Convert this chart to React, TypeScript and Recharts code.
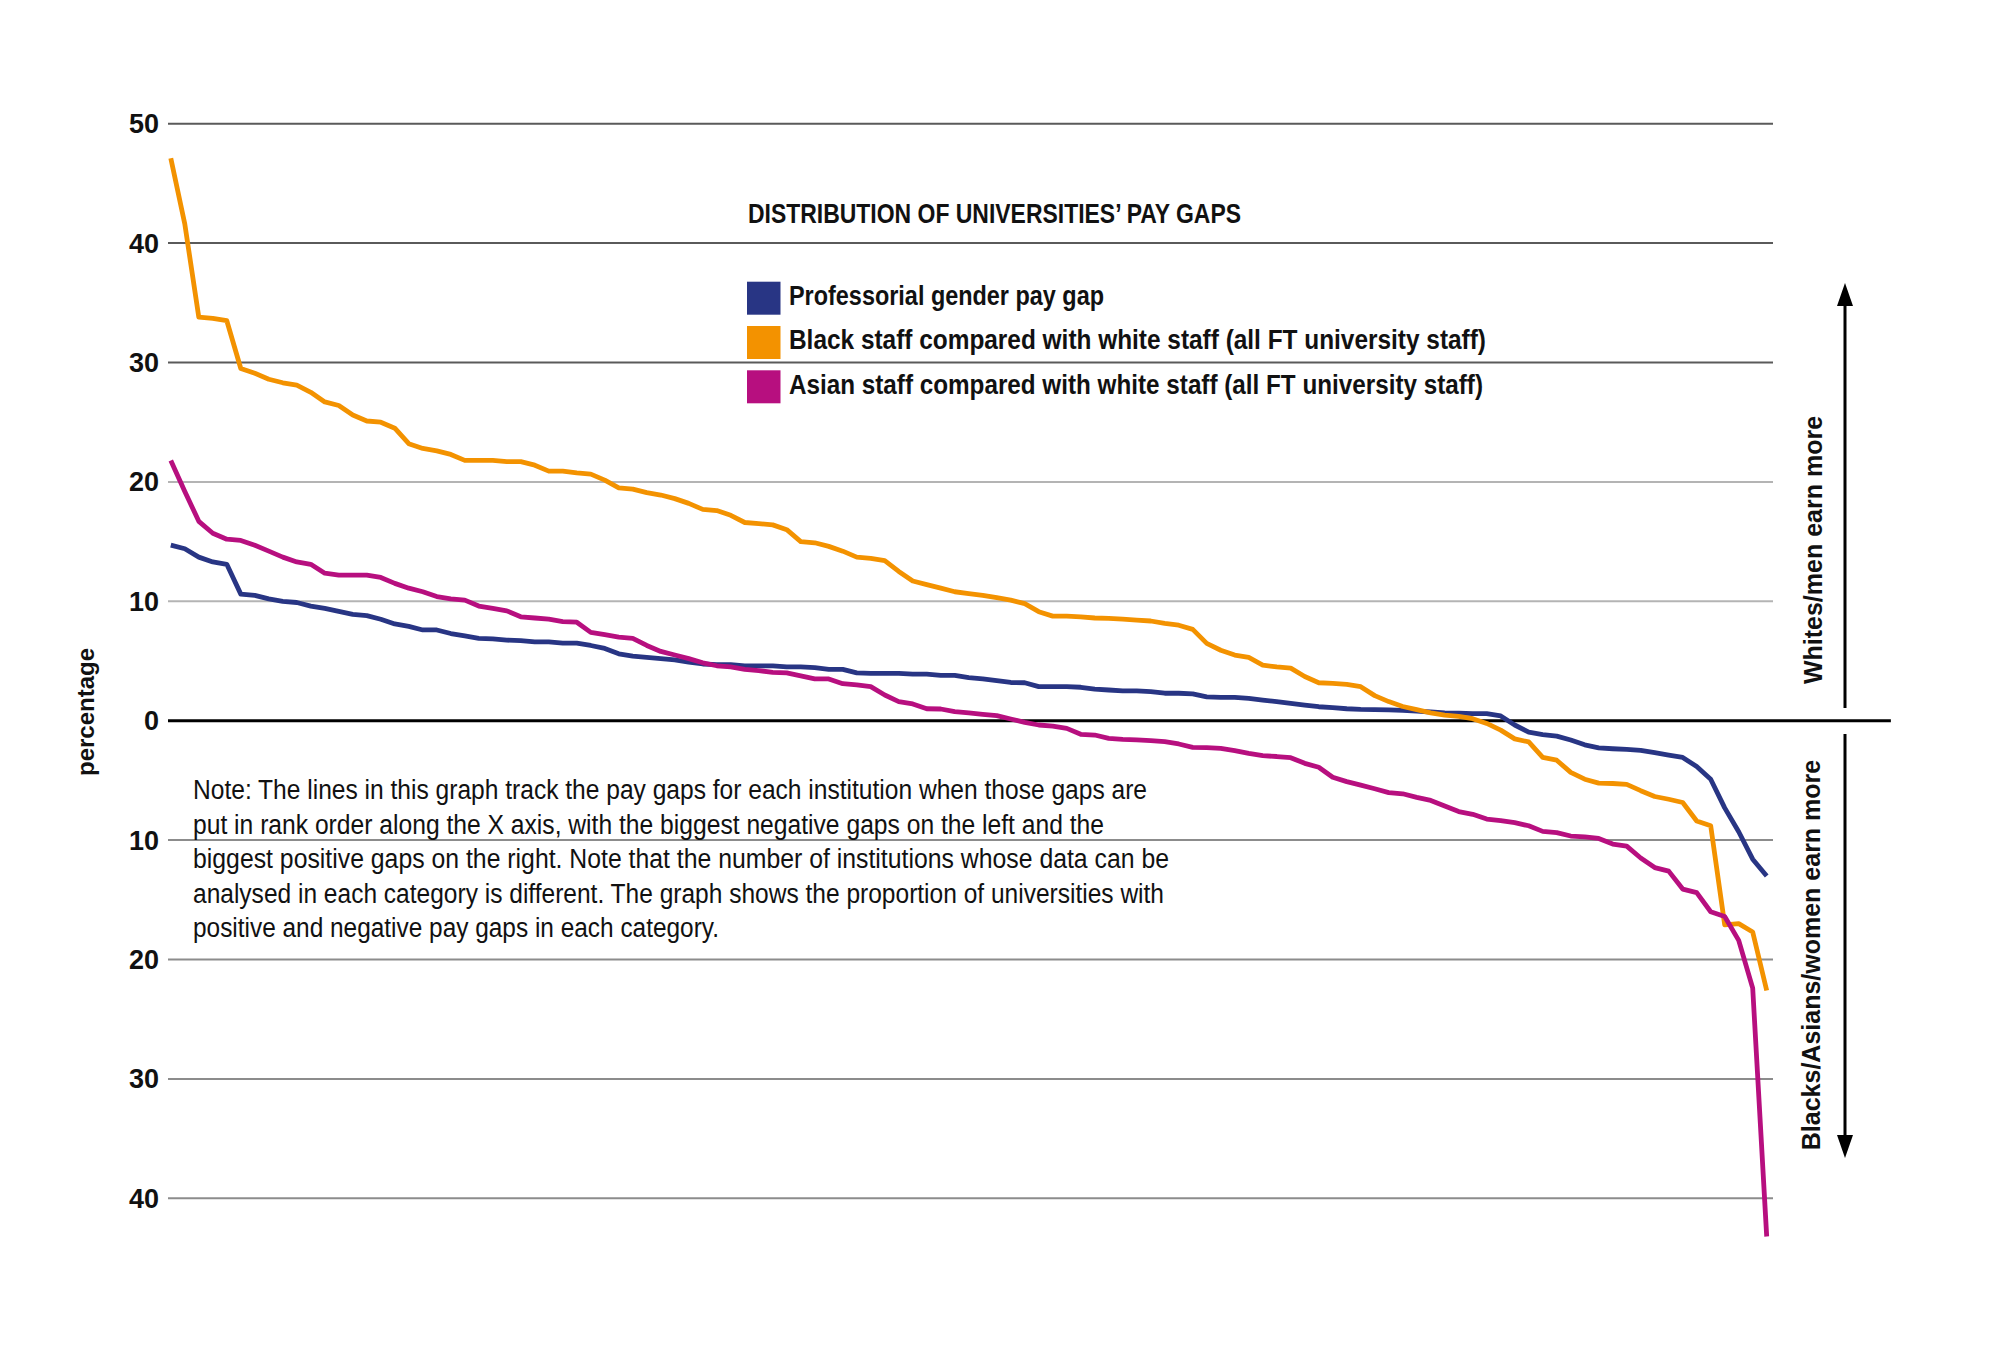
import React from 'react';
import { LineChart, Line, XAxis, YAxis, ReferenceLine, Legend } from 'recharts';

// Ranked pay gaps (percentage), left = biggest gap in favour of whites/men
const genderGap = [
  14.7, 14.4, 13.7, 13.3, 13.1, 10.6, 10.5, 10.2, 10.0, 9.9,
  9.6, 9.4, 9.15, 8.9, 8.8, 8.5, 8.1, 7.9, 7.6, 7.6,
  7.3, 7.1, 6.9, 6.85, 6.75, 6.7, 6.6, 6.6, 6.5, 6.5,
  6.3, 6.05, 5.6, 5.4, 5.3, 5.2, 5.1, 4.9, 4.75, 4.7,
  4.7, 4.6, 4.6, 4.6, 4.5, 4.5, 4.45, 4.3, 4.3, 4.0,
  3.96, 3.96, 3.96, 3.9, 3.9, 3.8, 3.8, 3.6, 3.5, 3.35,
  3.2, 3.18, 2.85, 2.85, 2.85, 2.8, 2.65, 2.57, 2.5, 2.5,
  2.43, 2.3, 2.3, 2.24, 2.0, 1.96, 1.96, 1.87, 1.73, 1.6,
  1.45, 1.3, 1.17, 1.1, 1.0, 0.95, 0.93, 0.9, 0.86, 0.8,
  0.73, 0.66, 0.63, 0.6, 0.6, 0.4, -0.36, -0.96, -1.16, -1.29,
  -1.62, -2.02, -2.28, -2.35, -2.41, -2.48, -2.68, -2.88, -3.08, -3.84,
  -4.9, -7.3, -9.3, -11.6, -13.0,
];

const blackGap = [
  47.1, 41.6, 33.8, 33.7, 33.5, 29.5, 29.1, 28.6, 28.3, 28.1,
  27.5, 26.7, 26.4, 25.6, 25.1, 25.0, 24.5, 23.2, 22.8, 22.6,
  22.3, 21.8, 21.8, 21.8, 21.7, 21.7, 21.4, 20.9, 20.9, 20.75,
  20.65, 20.15, 19.5, 19.4, 19.1, 18.9, 18.6, 18.2, 17.7, 17.6,
  17.2, 16.6, 16.5, 16.4, 16.0, 15.0, 14.9, 14.6, 14.2, 13.7,
  13.6, 13.4, 12.5, 11.7, 11.4, 11.1, 10.8, 10.65, 10.5, 10.3,
  10.1, 9.8, 9.13, 8.76, 8.76, 8.7, 8.6, 8.57, 8.5, 8.43,
  8.35, 8.15, 8.0, 7.65, 6.48, 5.9, 5.5, 5.3, 4.66, 4.5,
  4.4, 3.7, 3.18, 3.13, 3.05, 2.85, 2.1, 1.6, 1.19, 0.93,
  0.66, 0.47, 0.37, 0.17, -0.23, -0.79, -1.52, -1.78, -3.08, -3.31,
  -4.33, -4.9, -5.23, -5.26, -5.33, -5.86, -6.35, -6.58, -6.85, -8.4,
  -8.8, -17.1, -17.0, -17.7, -22.6,
];

const asianGap = [
  21.8, 19.2, 16.7, 15.7, 15.2, 15.1, 14.7, 14.2, 13.7, 13.3,
  13.1, 12.35, 12.2, 12.2, 12.2, 12.0, 11.5, 11.1, 10.8, 10.4,
  10.2, 10.1, 9.6, 9.4, 9.2, 8.7, 8.6, 8.5, 8.3, 8.25,
  7.4, 7.2, 7.0, 6.9, 6.3, 5.8, 5.5, 5.2, 4.85, 4.6,
  4.5, 4.3, 4.2, 4.05, 4.0, 3.75, 3.5, 3.5, 3.1, 3.0,
  2.85, 2.15, 1.6, 1.4, 1.0, 0.98, 0.76, 0.65, 0.53, 0.42,
  0.14, -0.14, -0.36, -0.45, -0.64, -1.14, -1.2, -1.48, -1.56, -1.6,
  -1.67, -1.76, -1.95, -2.23, -2.25, -2.31, -2.5, -2.73, -2.93, -3.0,
  -3.1, -3.57, -3.9, -4.74, -5.1, -5.4, -5.7, -6.02, -6.12, -6.42,
  -6.68, -7.15, -7.61, -7.84, -8.24, -8.37, -8.54, -8.8, -9.27, -9.37,
  -9.66, -9.73, -9.86, -10.33, -10.5, -11.5, -12.3, -12.6, -14.1, -14.4,
  -16.0, -16.4, -18.4, -22.4, -43.2,
];

const yTicks = [50, 40, 30, 20, 10, 0, -10, -20, -30, -40];

const seriesKeys = ['gender', 'black', 'asian'];
const seriesNames: Record<string, string> = {
  gender: 'Professorial gender pay gap',
  black: 'Black staff compared with white staff (all FT university staff)',
  asian: 'Asian staff compared with white staff (all FT university staff)',
};

const noteLines = [
  'Note: The lines in this graph track the pay gaps for each institution when those gaps are',
  'put in rank order along the X axis, with the biggest negative gaps on the left and the',
  'biggest positive gaps on the right. Note that the number of institutions whose data can be',
  'analysed in each category is different. The graph shows the proportion of universities with',
  'positive and negative pay gaps in each category.',
];

const chartTitle = 'DISTRIBUTION OF UNIVERSITIES\u2019 PAY GAPS';
const upLabel = 'Whites/men earn more';
const downLabel = 'Blacks/Asians/women earn more';
const yLabel = 'percentage';

// ---- styling / layout (not data) ----
const COLORS: Record<string, string> = { gender: '#283584', black: '#F39200', asian: '#B70F7F' };
const LEGEND_TEXT_WIDTH: Record<string, number> = { gender: 315, black: 697, asian: 694 };
const NOTE_LINE_WIDTH = [954, 911, 976, 971, 526];

const rows = genderGap.map((_, i) => ({
  rank: i,
  gender: genderGap[i],
  black: blackGap[i],
  asian: asianGap[i],
}));

const SANS = '"Liberation Sans", Arial, sans-serif';

function gridStroke(v: number) {
  if (v >= 30) return '#5a5a5a';
  if (v > 0) return '#b4b4b4';
  return '#8c8c8c';
}

const X_DOMAIN: [number, number] = [-0.2, 114.45];

function LegendContent() {
  return (
    <svg width={1100} height={140} style={{ display: 'block', overflow: 'visible' }}>
      {seriesKeys.map((k, i) => (
        <g key={k}>
          <rect x={0} y={5.7 + i * 44.3} width={33.5} height={33} fill={COLORS[k]} />
          <text
            x={42}
            y={29 + i * 44.3}
            fontFamily={SANS}
            fontWeight={700}
            fontSize={27}
            fill="#111"
            textLength={LEGEND_TEXT_WIDTH[k]}
            lengthAdjust="spacingAndGlyphs"
          >
            {seriesNames[k]}
          </text>
        </g>
      ))}
    </svg>
  );
}

export default function App() {
  return (
    <div style={{ position: 'absolute', left: 0, top: 0, width: 2000, height: 1347, background: '#fff', overflow: 'hidden' }}>
      <LineChart
        width={2000}
        height={1347}
        data={rows}
        margin={{ top: 123.7, right: 227, bottom: 89, left: 0 }}
      >
        <XAxis dataKey="rank" type="number" domain={X_DOMAIN} hide allowDataOverflow />
        <YAxis
          type="number"
          domain={[-45, 50]}
          ticks={yTicks}
          interval={0}
          width={168}
          axisLine={false}
          tickLine={false}
          tickSize={0}
          tickMargin={9}
          tickFormatter={(v: number) => String(Math.abs(v))}
          tick={{ fontFamily: SANS, fontWeight: 700, fontSize: 27, fill: '#111' }}
        />
        {yTicks.filter((t) => t !== 0).map((t) => (
          <ReferenceLine key={t} y={t} stroke={gridStroke(t)} strokeWidth={2} />
        ))}
        <ReferenceLine
          segment={[{ x: X_DOMAIN[0], y: 0 }, { x: 122.87, y: 0 }]}
          stroke="#000"
          strokeWidth={3}
          ifOverflow="visible"
        />
        <Legend
          layout="vertical"
          align="center"
          verticalAlign="middle"
          content={<LegendContent />}
          wrapperStyle={{ left: 747, top: 276, width: 1100, height: 140 }}
        />
        {seriesKeys.map((k) => (
          <Line
            key={k}
            type="linear"
            dataKey={k}
            name={seriesNames[k]}
            stroke={COLORS[k]}
            strokeWidth={4.8}
            dot={false}
            isAnimationActive={false}
            strokeLinejoin="round"
          />
        ))}
      </LineChart>
      <svg width={2000} height={1347} style={{ position: 'absolute', left: 0, top: 0, pointerEvents: 'none' }}>
        <text x={748} y={223} fontFamily={SANS} fontWeight={700} fontSize={28} fill="#111" textLength={493} lengthAdjust="spacingAndGlyphs">{chartTitle}</text>
        {noteLines.map((line, i) => (
          <text key={i} x={193} y={799 + i * 34.5} fontFamily={SANS} fontSize={27} fill="#111" textLength={NOTE_LINE_WIDTH[i]} lengthAdjust="spacingAndGlyphs">{line}</text>
        ))}
        <text x={85} y={712} transform="rotate(-90 85 712)" textAnchor="middle" dominantBaseline="central" fontFamily={SANS} fontWeight={700} fontSize={24} fill="#111">{yLabel}</text>
        <text x={1813} y={550} transform="rotate(-90 1813 550)" textAnchor="middle" dominantBaseline="central" fontFamily={SANS} fontWeight={700} fontSize={25} fill="#111">{upLabel}</text>
        <text x={1811} y={955} transform="rotate(-90 1811 955)" textAnchor="middle" dominantBaseline="central" fontFamily={SANS} fontWeight={700} fontSize={25} fill="#111">{downLabel}</text>
        <line x1={1845} y1={708} x2={1845} y2={300} stroke="#000" strokeWidth={3} />
        <polygon points="1845,283 1837,306 1853,306" fill="#000" />
        <line x1={1845} y1={734} x2={1845} y2={1140} stroke="#000" strokeWidth={3} />
        <polygon points="1845,1158 1837,1135 1853,1135" fill="#000" />
      </svg>
    </div>
  );
}
